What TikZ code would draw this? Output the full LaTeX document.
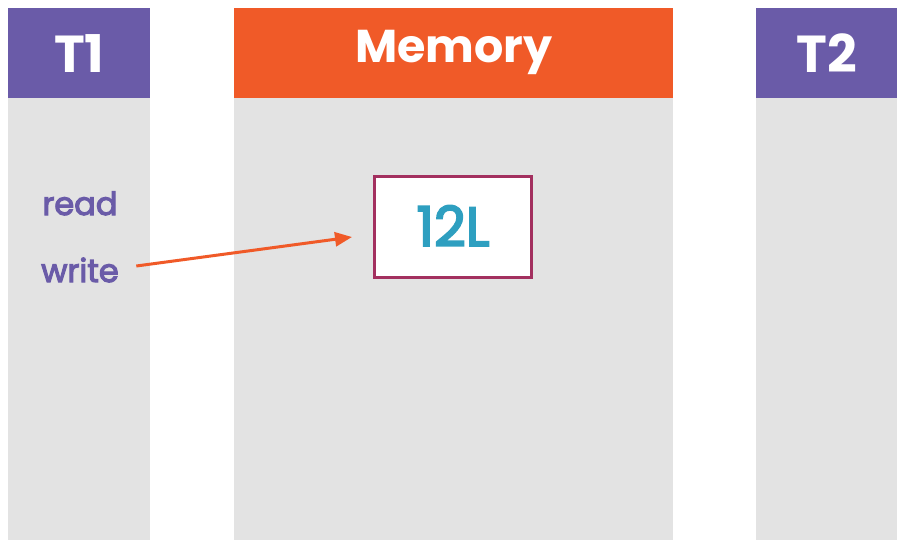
\documentclass[tikz,border=0pt]{standalone}
\usepackage{fontspec}
\setmainfont{Poppins}
\newfontfamily\medfont[FakeBold=3.5]{Poppins}
\usetikzlibrary{arrows.meta, positioning}

\definecolor{thpurple}{HTML}{6A5BA8}
\definecolor{memorange}{HTML}{F05A28}
\definecolor{colgrey}{HTML}{E3E3E3}
\definecolor{valborder}{HTML}{A3305F}
\definecolor{valtext}{HTML}{2E9FC0}

\begin{document}
\begin{tikzpicture}[x=1pt,y=-1pt,
    head/.style={fill=#1, text=white, inner sep=0pt, anchor=north west, minimum height=90pt},
    column/.style={fill=colgrey, inner sep=0pt, anchor=north west, minimum height=442pt},
    oplabel/.style={text=thpurple, font=\medfont\fontsize{32}{32}\selectfont, anchor=base},
    wire/.style={memorange, line width=3pt, -{Triangle[length=17pt,width=14pt]}}]
        \useasboundingbox (0,0) rectangle (907,550);

        % Kolommen
        \node[column, minimum width=142pt] (t1col) at (8,98) {};
        \node[column, minimum width=439pt] (memcol) at (234,98) {};
        \node[column, minimum width=141pt] (t2col) at (756,98) {};

        % Koppen
        \node[head=thpurple, minimum width=142pt, text height=39pt, text depth=1pt,
              font=\bfseries\fontsize{52}{52}\selectfont] (t1head) at (8,8) {T1};
        \node[head=memorange, minimum width=439pt, text height=32pt, text depth=14pt,
              font=\bfseries\fontsize{46}{46}\selectfont] (memhead) at (234,8) {Memory};
        \node[head=thpurple, minimum width=141pt, text height=39pt, text depth=1pt,
              font=\bfseries\fontsize{52}{52}\selectfont] (t2head) at (756,8) {T2};

        % Waarde in het geheugen
        \node[draw=valborder, line width=3pt, fill=white, text=valtext,
              font=\medfont\fontsize{55}{55}\selectfont, minimum width=157pt, minimum height=101pt,
              text height=38pt, text depth=0pt, inner sep=0pt] (val) at (453,227) {12L};

        % Acties van T1
        \node[oplabel] (readlbl) at (80,215) {read};
        \node[oplabel] (writelbl) at (80,282) {write};

        % Pijl
        \coordinate (wtip) at (352,237);
        \draw[wire] ([xshift=14pt,yshift=16pt]writelbl.base east) -- (wtip);

    \end{tikzpicture}
\end{document}
